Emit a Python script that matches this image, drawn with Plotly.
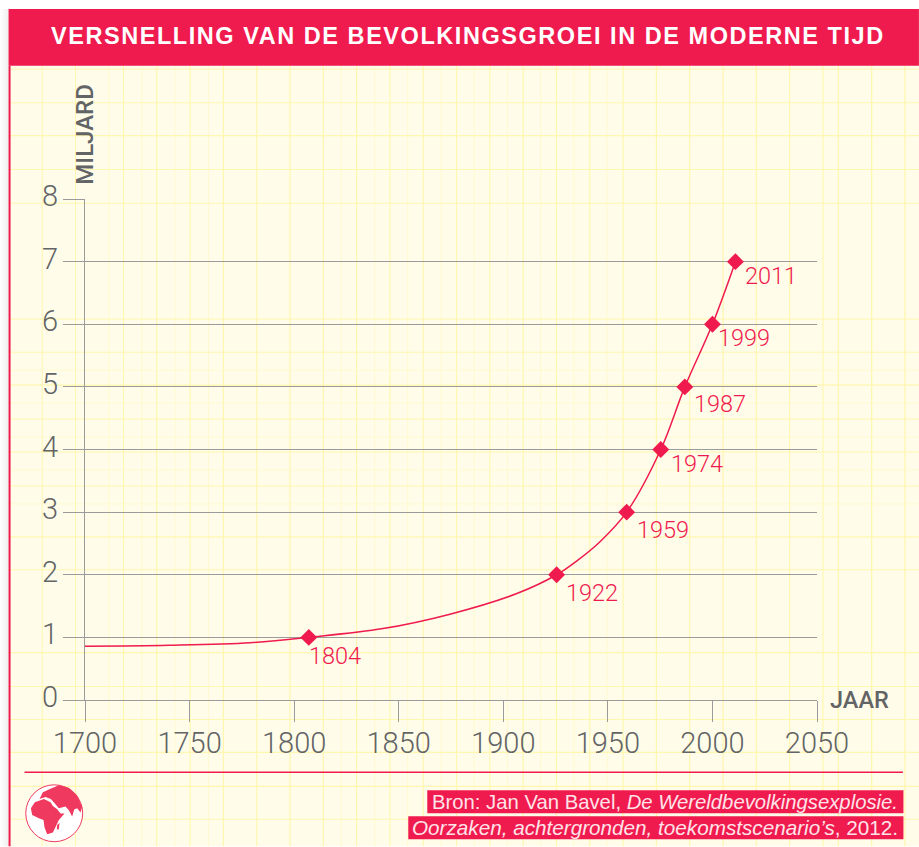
import plotly.graph_objects as go

# ---- data ----
curve_years = [1700, 1740, 1779, 1807, 1842.5, 1874.5, 1906.5, 1925.5, 1935.5, 1946, 1959, 1975.3, 1986.8, 2000, 2011]
curve_values = [0.86, 0.875, 0.915, 1.0, 1.14, 1.37, 1.70, 2.0, 2.23, 2.52, 3, 4, 5, 6, 7]
marker_years = [1807, 1925.5, 1959, 1975.3, 1986.8, 2000, 2011]
marker_values = [1, 2, 3, 4, 5, 6, 7]
marker_labels = ["1804", "1922", "1959", "1974", "1987", "1999", "2011"]
x_ticks = [1700, 1750, 1800, 1850, 1900, 1950, 2000, 2050]
y_ticks = [0, 1, 2, 3, 4, 5, 6, 7, 8]
title_text = "VERSNELLING VAN DE BEVOLKINGSGROEI IN DE MODERNE TIJD"
source_line_1 = "Bron: Jan Van Bavel, <i>De Wereldbevolkingsexplosie.</i>"
source_line_2 = "<i>Oorzaken, achtergronden, toekomstscenario’s</i>, 2012."
y_label = "MILJARD"
x_label = "JAAR"

# ---- layout constants (pixels) ----
W, H = 919, 847
L, R, T, B = 84.5, 817, 198.5, 700.5
RED = "#ef1a4e"
TXT = "#636466"
AXIS = "#9b9b9b"
CREAM = "#fffde9"
YEL_STRONG = "#fff6b0"
YEL_FAINT = "#fff9cf"
FONT = "Liberation Sans"
TICK_FONT = "Roboto"
label_offsets = [(-1.5, 19), (7.5, 18), (8.5, 18), (8, 14), (7.5, 17.5), (4, 13.5), (7.5, 14)]


def px(x):
    return (x - L) / (R - L)


def py(y):
    return (B - y) / (B - T)


shapes = []


def rect(x0, y0, x1, y1, fill):
    shapes.append(dict(type="rect", xref="paper", yref="paper", x0=px(x0), x1=px(x1), y0=py(y0), y1=py(y1),
                       fillcolor=fill, line_width=0, layer="below"))


def seg(x0, y0, x1, y1, color, width=1.0):
    shapes.append(dict(type="line", xref="paper", yref="paper", x0=px(x0), x1=px(x1), y0=py(y0), y1=py(y1),
                       line=dict(color=color, width=width), layer="below"))


def poly(points, fill):
    d = "M " + " L ".join(f"{px(a):.5f} {py(b):.5f}" for a, b in points) + " Z"
    shapes.append(dict(type="path", xref="paper", yref="paper", path=d, fillcolor=fill, line_width=0, layer="below"))


# page shadow, card
for i in range(8):
    g = 255 - int((i + 1) * 2.5)
    rect(i, 8, i + 1, H, f"rgb({g},{g},{g})")
rect(8, 8, W, H, CREAM)

# graph-paper grid
for x in [123 + 33.33 * k for k in range(22)]:
    seg(x, 65, x, H, YEL_STRONG, 1.2)
for x in [41.7 + 33.25 * k for k in range(18) if not 5 < k < 9]:
    seg(x, 65, x, H, YEL_FAINT if x > 100 else YEL_STRONG, 1.0)
for x in (838.3, 871.7, 905):
    seg(x, 65, x, H, YEL_STRONG, 1.3)
for y in (68.5, 102, 135, 169, 202.7, 318.7, 352, 385, 419, 452, 486, 537, 570, 653, 687, 720, 753, 787, 820):
    seg(8, y, W, y, YEL_STRONG, 1.1)
for y in (370, 403, 437, 470, 504):
    seg(8, y, W, y, YEL_FAINT, 1.0)

# header + left border
rect(8, 8, W, 65, RED)
rect(8, 65, 10, H, RED)
# footer rule, source backgrounds
seg(24, 773, 903, 773, RED, 1.5)
rect(427, 791, 903.5, 814, RED)
rect(408, 817, 903.5, 840, RED)

# globe icon
cx, cy, r = 53.7, 814, 28.5
shapes.append(dict(type="circle", xref="paper", yref="paper", x0=px(cx - r), x1=px(cx + r), y0=py(cy + r), y1=py(cy - r),
                   fillcolor="white", line=dict(color="#f0395f", width=1), layer="below"))


def zg(pts):
    return [(15 + a / 3, 775 + b / 3) for a, b in pts]


poly(zg([(46, 102), (58, 84), (85, 74), (105, 84), (112, 95), (125, 105), (135, 118), (147, 118), (130, 137), (124, 150),
         (112, 175), (95, 180), (87, 160), (84, 137), (70, 132), (50, 122)]), "#f0395f")
poly(zg([(72, 74), (82, 54), (105, 43), (130, 33), (160, 40), (184, 62), (200, 98), (195, 115), (185, 102), (176, 106),
         (170, 127), (160, 108), (150, 97), (130, 102), (120, 90), (106, 74), (90, 68)]), "#f0395f")
poly(zg([(125, 152), (132, 146), (130, 165), (124, 166)]), "#f0395f")


def note(x, y, text, size, color, family=FONT, anchor="center", angle=0, weight=None):
    font = dict(family=family, size=size, color=color)
    if weight:
        font["weight"] = weight
    return dict(xref="paper", yref="paper", x=px(x), y=py(y), text=text, showarrow=False, xanchor=anchor, yanchor="middle",
                textangle=angle, font=font)


annotations = [
    note(468, 35, f"<b>{title_text}</b>", 23.5, "white"),
    note(84.5, 134, y_label, 24, TXT, family=TICK_FONT, angle=-90, weight=500),
    note(860, 701, x_label, 23.5, TXT, family=TICK_FONT, weight=500),
    note(900.5, 802.5, source_line_1, 20.3, "#ffe3e8", anchor="right"),
    note(900.5, 828.5, source_line_2, 20.7, "#ffe3e8", anchor="right"),
]
for yr, val, lab, (dx, dy) in zip(marker_years, marker_values, marker_labels, label_offsets):
    annotations.append(dict(x=yr, y=val, xref="x", yref="y", text=lab, showarrow=False, xanchor="left", yanchor="middle",
                            xshift=dx, yshift=-dy, font=dict(family=TICK_FONT, size=23.5, color=RED, weight=300)))
# value-axis labels sit slightly above their rules in the reference
for v in y_ticks:
    annotations.append(dict(x=px(59), y=v, xref="paper", yref="y", text=str(v), showarrow=False, xanchor="right",
                            yanchor="middle", yshift=3, font=dict(family=TICK_FONT, size=29, color=TXT, weight=300)))

fig = go.Figure()
fig.add_trace(go.Scatter(x=curve_years, y=curve_values, mode="lines", cliponaxis=False,
                         line=dict(color=RED, width=1.5, shape="spline", smoothing=1.0), hoverinfo="skip"))
fig.add_trace(go.Scatter(x=marker_years, y=marker_values, mode="markers", cliponaxis=False,
                         marker=dict(symbol="diamond", size=13, color=RED), hoverinfo="skip"))

fig.update_layout(
    width=W, height=H, autosize=False, showlegend=False,
    margin=dict(l=L, r=W - R, t=T, b=H - B, pad=0),
    paper_bgcolor="white", plot_bgcolor="rgba(0,0,0,0)",
    shapes=shapes, annotations=annotations,
    xaxis=dict(range=[1700, 2050], tickvals=x_ticks, ticks="outside", ticklen=21, tickwidth=1.3, tickcolor=AXIS,
               showgrid=False, zeroline=False, showline=True, linecolor=AXIS, linewidth=1.3, ticklabelstandoff=-4,
               tickfont=dict(family=TICK_FONT, size=29, color=TXT, weight=300)),
    yaxis=dict(range=[0, 8], tickvals=y_ticks, ticks="outside", ticklen=21, tickwidth=1.3, tickcolor=AXIS,
               showticklabels=False,
               showgrid=True, gridcolor=AXIS, gridwidth=1.1, zeroline=False, showline=True, linecolor=AXIS, linewidth=1.3),
)
post = """
document.body.style.margin='0';
document.querySelectorAll('.annotation-text').forEach(function(t){
  if (t.textContent.indexOf('VERSNELLING') === 0) { t.style.letterSpacing = '1.55px'; }
});
"""
fig.write_html("out.html", post_script=post, config={"displayModeBar": False})
